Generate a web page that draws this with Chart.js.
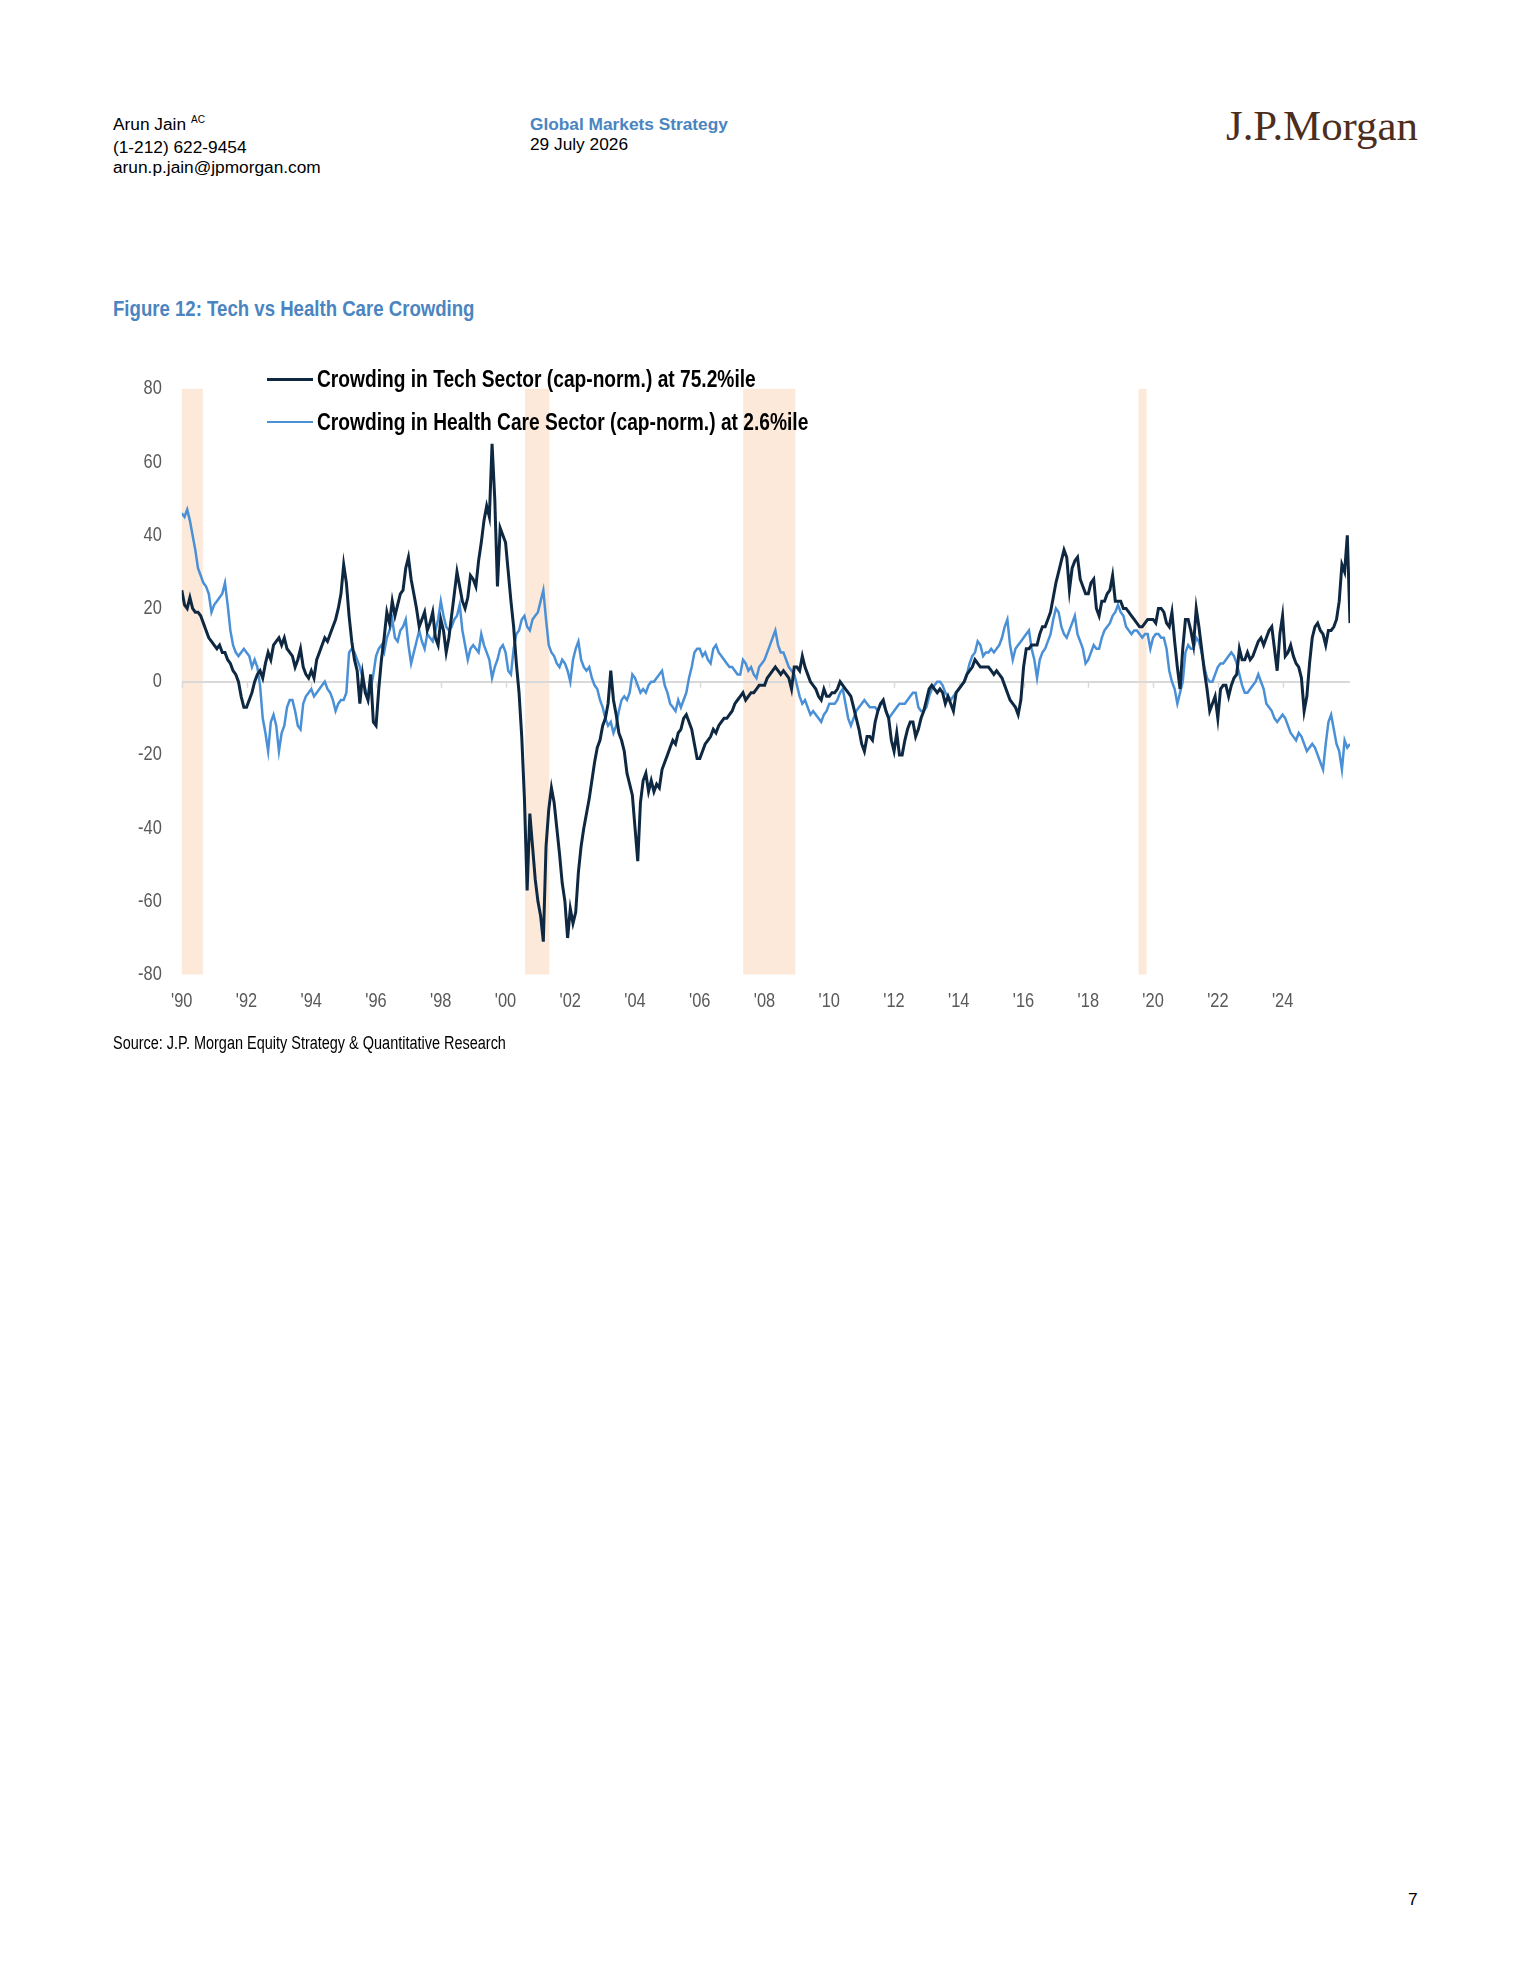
<!DOCTYPE html>
<html>
<head>
<meta charset="utf-8">
<script src="https://cdn.jsdelivr.net/npm/chart.js@4.4.1/dist/chart.umd.min.js"></script>
<style>
  html, body { margin: 0; padding: 0; background: #fff; }
  body { width: 1530px; height: 1980px; position: relative; overflow: hidden;
         font-family: "Liberation Sans", Arial, sans-serif; color: #000; }
  .abs { position: absolute; white-space: nowrap; }
  .hdr { font-size: 17.3px; line-height: 20.2px; }
  .cond { font-family: "Liberation Sans", Arial, sans-serif; transform: scaleX(0.82); transform-origin: 0 0; }
  .sup { font-size: 10px; position: relative; top: -7px; margin-left: 5px; }
  .lg { font-size: 23.4px; line-height: 23.4px; font-weight: bold; }
</style>
</head>
<body>
<div class="abs hdr" style="left:113px;top:114px;">Arun Jain<span class="sup">AC</span><br>(1-212) 622-9454<br>arun.p.jain@jpmorgan.com</div>
<div class="abs hdr" style="left:530px;top:114px;"><span style="font-weight:bold;color:#4a85c1;">Global Markets Strategy</span><br>29 July 2026</div>
<div class="abs" style="left:1226px;top:105px;font-family:'Liberation Serif','Times New Roman',serif;font-size:42.8px;line-height:42.8px;color:#4d2d1c;">J.P.Morgan</div>

<div class="abs cond" style="left:113px;top:297px;font-size:22.7px;line-height:22.7px;font-weight:bold;color:#4a85c1;">Figure 12: Tech vs Health Care Crowding</div>

<canvas id="c" width="1260" height="670" style="position:absolute;left:100px;top:370px;"></canvas>

<div id="lg1line" class="abs" style="left:267px;top:377.5px;width:46px;height:3px;"></div>
<div id="lg1" class="abs cond lg" style="left:317px;top:367.5px;"></div>
<div id="lg2line" class="abs" style="left:267px;top:420.5px;width:46px;height:2.5px;"></div>
<div id="lg2" class="abs cond lg" style="left:317px;top:410.5px;"></div>

<div class="abs cond" style="left:113px;top:1034.5px;font-size:17.65px;line-height:17.65px;">Source: J.P. Morgan Equity Strategy &amp; Quantitative Research</div>
<div class="abs hdr" style="left:1408px;top:1889px;">7</div>

<script>
// ---------------- data ----------------
const seriesNames = [
  'Crowding in Tech Sector (cap-norm.) at 75.2%ile',
  'Crowding in Health Care Sector (cap-norm.) at 2.6%ile'
];
const firstYear = 1990;           // monthly observations, Jan 1990 .. Feb 2026
const techValues = [
  25, 21, 20, 23, 20, 19, 19, 18, 16, 14, 12, 11,
  10, 9, 10, 8, 8, 6, 5, 3, 2, 0, -4, -7,
  -7, -5, -3, 0, 2, 3, 1, 5, 8, 6, 10, 11,
  12, 10, 12, 9, 8, 7, 4, 6, 9, 4, 2, 1,
  3, 1, 6, 8, 10, 12, 11, 13, 15, 17, 20, 24,
  32, 27, 18, 11, 6, 3, -6, 2, -3, -5, 2, -11,
  -12, -2, 6, 12, 19, 16, 22, 18, 21, 24, 25, 31,
  34, 28, 24, 20, 15, 17, 19, 14, 16, 19, 12, 10,
  17, 14, 8, 12, 18, 24, 30, 26, 22, 20, 23, 29,
  28, 26, 33, 38, 44, 48, 45, 65, 50, 26, 42, 40,
  38, 30, 22, 15, 5, -3, -15, -32, -57, -36, -45, -54,
  -60, -64, -71, -45, -35, -29, -33, -40, -47, -55, -60, -70,
  -62, -66, -63, -52, -45, -40, -36, -32, -27, -22, -18, -16,
  -12, -10, -6, 3, -5, -9, -14, -16, -19, -25, -28, -31,
  -40, -49, -33, -27, -25, -30, -27, -30, -28, -29, -24, -22,
  -20, -18, -16, -17, -14, -13, -10, -9, -11, -13, -17, -21,
  -21, -19, -17, -16, -15, -13, -14, -12, -11, -10, -10, -9,
  -8, -6, -5, -4, -3, -5, -4, -3, -3, -2, -1, -1,
  -1, 1, 2, 3, 4, 3, 2, 3, 2, 1, -2, 4,
  4, 3, 7, 4, 2, 0, -1, -2, -4, -5, -2, -4,
  -4, -3, -3, -2, 0, -1, -2, -3, -4, -7, -10, -13,
  -17, -19, -15, -15, -16, -11, -8, -6, -5, -8, -10, -16,
  -19, -14, -20, -20, -16, -13, -11, -11, -15, -13, -10, -8,
  -5, -2, -1, -2, -3, -2, -3, -6, -4, -6, -8, -3,
  -2, -1, 0, 2, 3, 4, 6, 5, 4, 4, 4, 4,
  3, 2, 3, 2, 1, -1, -3, -5, -6, -7, -9, -5,
  4, 9, 9, 10, 10, 10, 13, 15, 15, 17, 19, 23,
  27, 30, 33, 36, 34, 25, 31, 33, 34, 28, 26, 24,
  24, 27, 28, 20, 18, 22, 22, 24, 25, 29, 22, 22,
  22, 20, 20, 19, 18, 17, 16, 15, 15, 16, 17, 17,
  17, 16, 20, 20, 19, 16, 15, 19, 11, 4, -2, 9,
  17, 17, 14, 10, 20, 15, 9, 3, -2, -8, -6, -4,
  -10, -2, -1, -1, -4, -1, 1, 2, 9, 6, 6, 8,
  6, 7, 9, 11, 12, 10, 12, 14, 15, 9, 3, 13,
  18, 7, 8, 10, 7, 5, 4, 1, -8, -4, 5, 12,
  15, 16, 14, 13, 10, 14, 14, 15, 17, 22, 32, 30,
  40, 16
];
const healthValues = [
  46, 45, 47, 44, 40, 36, 31, 29, 27, 26, 24, 19,
  21, 22, 23, 24, 27, 21, 14, 10, 8, 7, 8, 9,
  8, 7, 4, 6, 4, -1, -10, -14, -19, -11, -9, -12,
  -19, -14, -12, -7, -5, -5, -8, -12, -13, -6, -4, -3,
  -2, -4, -3, -2, -1, 0, -2, -3, -5, -8, -6, -5,
  -5, -3, 8, 9, 8, 6, 4, 1, -2, -5, -2, 2,
  7, 9, 10, 8, 12, 14, 17, 12, 11, 14, 15, 17,
  10, 5, 8, 11, 14, 11, 9, 13, 12, 11, 14, 17,
  22, 18, 15, 14, 15, 17, 18, 21, 14, 10, 6, 9,
  10, 9, 8, 13, 10, 8, 6, 1, 4, 6, 9, 10,
  8, 3, 2, 9, 13, 14, 17, 18, 15, 14, 17, 18,
  19, 22, 25, 17, 10, 8, 7, 5, 4, 6, 5, 3,
  0, 6, 9, 11, 6, 4, 3, 4, 1, -1, -2, -5,
  -7, -10, -12, -11, -14, -12, -8, -5, -4, -5, -3, 2,
  1, -1, -3, -2, -3, -1, 0, 0, 1, 2, 3, -1,
  -3, -6, -7, -8, -5, -7, -5, -3, 1, 4, 8, 9,
  9, 7, 8, 6, 5, 9, 10, 8, 7, 6, 5, 4,
  4, 3, 2, 2, 6, 5, 3, 4, 2, 1, 4, 5,
  6, 8, 10, 12, 14, 10, 8, 8, 6, 4, 3, 2,
  -1, -4, -6, -5, -7, -9, -8, -9, -10, -11, -9, -8,
  -6, -6, -6, -5, -3, -2, -6, -10, -12, -10, -8, -7,
  -6, -5, -6, -7, -7, -7, -8, -6, -6, -8, -10, -9,
  -8, -7, -6, -6, -6, -5, -4, -3, -3, -7, -8, -8,
  -7, -4, -2, -1, 0, 0, -1, -3, -4, -5, -4, -3,
  -2, -1, 0, 2, 5, 7, 8, 11, 10, 7, 8, 8,
  9, 8, 9, 10, 12, 15, 17, 10, 6, 9, 10, 11,
  12, 13, 14, 9, 6, 1, 6, 8, 9, 11, 13, 17,
  20, 19, 15, 13, 12, 14, 16, 18, 13, 11, 9, 5,
  6, 8, 10, 9, 9, 12, 14, 15, 16, 18, 19, 21,
  19, 18, 15, 14, 13, 14, 14, 13, 12, 13, 13, 9,
  12, 13, 13, 12, 12, 9, 3, 0, -2, -6, -3, 0,
  8, 10, 9, 9, 12, 11, 8, 4, 1, 0, 0, 2,
  4, 5, 5, 6, 7, 8, 7, 5, 2, -1, -3, -3,
  -2, -1, 0, 2, 0, -2, -6, -7, -8, -10, -11, -10,
  -9, -10, -12, -14, -15, -16, -14, -15, -17, -19, -18, -17,
  -18, -20, -22, -24, -17, -11, -9, -13, -17, -19, -24, -16,
  -18, -17
];
const tickYears  = [1990, 1992, 1994, 1996, 1998, 2000, 2002, 2004, 2006, 2008, 2010, 2012, 2014, 2016, 2018, 2020, 2022, 2024];
const tickLabels = ["'90", "'92", "'94", "'96", "'98", "'00", "'02", "'04", "'06", "'08", "'10", "'12", "'14", "'16", "'18", "'20", "'22", "'24"];
const shadeStart = [1990.0, 2000.6, 2007.34, 2019.55];
const shadeEnd   = [1990.65, 2001.35, 2008.95, 2019.8];

// ---------------- styles ----------------
const techColor = '#0e2841';
const healthColor = '#4a90d6';
const shadeColor = '#fde9da';
const zeroColor = '#d9d9d9';
const tickColor = '#595959';
const tickFont = '20px "Liberation Sans", Arial, sans-serif';
const condense = 0.82;

// months as categories -> decimal year positions
const months = techValues.map((_, i) => {
  const y = firstYear + Math.floor(i / 12), m = (i % 12) + 1;
  return y + '-' + String(m).padStart(2, '0');
});
const monthPos = s => { const [y, m] = s.split('-').map(Number); return y + (m - 1) / 12; };
const techData = months.map((s, i) => ({ x: monthPos(s), y: techValues[i] }));
const healthData = months.map((s, i) => ({ x: monthPos(s), y: healthValues[i] }));

document.getElementById('lg1').textContent = seriesNames[0];
document.getElementById('lg2').textContent = seriesNames[1];
document.getElementById('lg1line').style.background = techColor;
document.getElementById('lg2line').style.background = healthColor;

const decor = {
  id: 'decor',
  beforeDraw(chart) {
    const { ctx, chartArea: a, scales: { x } } = chart;
    ctx.save();
    ctx.fillStyle = shadeColor;
    shadeStart.forEach((s, i) => {
      const x0 = x.getPixelForValue(s), x1 = x.getPixelForValue(shadeEnd[i]);
      ctx.fillRect(x0, a.top, x1 - x0, a.bottom - a.top);
    });
    ctx.restore();
  },
  beforeDatasetsDraw(chart) {
    const { ctx, scales: { x, y } } = chart;
    const y0 = y.getPixelForValue(0);
    ctx.save();
    ctx.strokeStyle = zeroColor;
    ctx.lineWidth = 1.5;
    x.ticks.forEach(t => {
      const px = Math.round(x.getPixelForValue(t.value)) + 0.5;
      ctx.beginPath(); ctx.moveTo(px, y0); ctx.lineTo(px, y0 + 6); ctx.stroke();
    });
    ctx.restore();
  },
  afterDraw(chart) {
    // condensed tick labels (Arial Narrow look), positioned by the chart's own scales
    const { ctx, chartArea: a, scales: { x, y } } = chart;
    ctx.save();
    ctx.fillStyle = tickColor;
    ctx.font = tickFont;
    ctx.textBaseline = 'middle';
    y.ticks.forEach(t => {
      ctx.save();
      ctx.translate(a.left - 20, y.getPixelForValue(t.value));
      ctx.scale(condense, 1);
      ctx.textAlign = 'right';
      ctx.fillText(String(t.value), 0, 0);
      ctx.restore();
    });
    x.ticks.forEach((t, i) => {
      ctx.save();
      ctx.translate(x.getPixelForValue(t.value), a.bottom + 26.4);
      ctx.scale(condense, 1);
      ctx.textAlign = 'center';
      ctx.fillText(tickLabels[i], 0, 0);
      ctx.restore();
    });
    ctx.restore();
  }
};

new Chart(document.getElementById('c'), {
  type: 'line',
  data: {
    datasets: [
      { label: seriesNames[0], data: techData, borderColor: techColor, borderWidth: 3,
        pointRadius: 0, tension: 0, fill: false },
      { label: seriesNames[1], data: healthData, borderColor: healthColor, borderWidth: 2.5,
        pointRadius: 0, tension: 0, fill: false }
    ]
  },
  options: {
    responsive: false,
    animation: false,
    devicePixelRatio: 1,
    layout: { padding: { top: 18.8, right: 10, left: 0, bottom: 0 } },
    plugins: { legend: { display: false }, tooltip: { enabled: false } },
    scales: {
      x: {
        type: 'linear', min: 1990, max: 2026.083,
        grid: { display: false }, border: { display: false },
        afterBuildTicks: s => { s.ticks = tickYears.map(v => ({ value: v })); },
        afterFit: s => { s.height = 65.4; },
        ticks: { display: false, autoSkip: false, maxRotation: 0,
                 callback: (v, i) => tickLabels[i] }
      },
      y: {
        min: -80, max: 80,
        border: { display: false },
        grid: { drawTicks: false, lineWidth: 2,
                color: c => (c.tick && c.tick.value === 0) ? zeroColor : 'rgba(0,0,0,0)' },
        afterFit: s => { s.width = 81.8; },
        ticks: { display: false, stepSize: 20 }
      }
    }
  },
  plugins: [decor]
});
</script>
</body>
</html>
